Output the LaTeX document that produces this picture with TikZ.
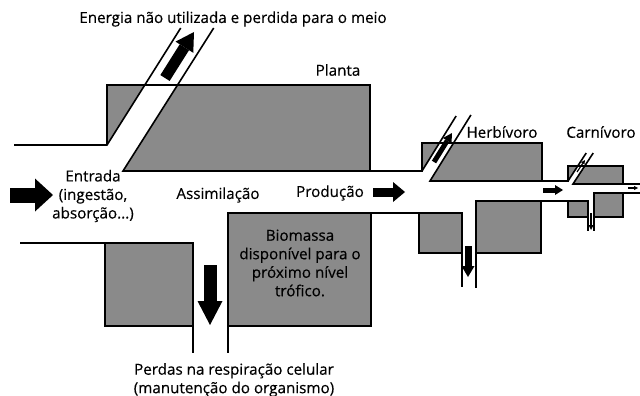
\documentclass[tikz,border=0pt]{standalone}
\usepackage{fontspec}
\setmainfont{Open Sans}
\newfontfamily\rotulofont{Open Sans}[FakeBold=0.4]
\usetikzlibrary{arrows.meta}
\definecolor{cinza}{RGB}{138,138,138}
\tikzset{
  parede/.style={line width=1.6pt, line join=miter},
  massa/.style={fill=cinza, draw=black, line width=1.6pt},
  seta/.style n args={3}{line width=#1pt, -{Triangle[length=#3pt, width=#2pt, line width=0pt]}},
  rotulo/.style={font=\rotulofont\fontsize{15.2}{18.5}\selectfont, align=center, inner sep=0pt}
}
\begin{document}
\begin{tikzpicture}[x=1pt,y=-1pt]
\useasboundingbox (0,0) rectangle (640,396);

% planta (parte de cima)
\fill[cinza] (107,145) -- (107,85) -- (144.8,85) -- cycle;
\fill[cinza] (123,171) -- (177.8,85) -- (370,85) -- (370,171) -- cycle;
\draw[parede] (14,145) -- (107,145) -- (180.7,28);
\draw[parede] (107,145) -- (107,85) -- (370,85) -- (370,171);
\draw[parede] (213.7,28) -- (123,171) -- (370,171);

% herbivoro e carnivoro (parte de cima)
\fill[cinza] (422,171) -- (422,143) -- (439.4,143) -- cycle;
\fill[cinza] (430,181) -- (453.6,143) -- (542,143) -- (542,181) -- cycle;
\fill[cinza] (568,181) -- (568,166) -- (577.7,166) -- cycle;
\fill[cinza] (573,184) -- (584.7,166) -- (623,166) -- (623,184) -- cycle;
\draw[parede] (370,171) -- (422,171) -- (422,143) -- (542,143) -- (542,181) -- (568,181) -- (568,166) -- (623,166) -- (623,184) -- (640,184);
\draw[parede] (422,171) -- (456.1,116);
\draw[parede] (470.9,115) -- (430,181) -- (542,181);
\draw[parede] (568,181) -- (586.2,153);
\draw[parede] (593.2,153) -- (573,184) -- (623,184);

% parte de baixo
\fill[cinza] (105,243) rectangle (193,326);
\draw[parede] (20,243) -- (193,243) -- (193,353);
\draw[parede] (193,326) -- (105,326) -- (105,243);
\draw[massa] (228,213) rectangle (371,326);
\draw[parede] (228,326) -- (228,353);
\fill[cinza] (419,213) rectangle (462,253);
\draw[parede] (371,213) -- (462,213) -- (462,287);
\draw[parede] (419,213) -- (419,253) -- (462,253);
\draw[massa] (476,201) rectangle (541,253);
\draw[parede] (476,253) -- (476,288);
\fill[cinza] (568,201) rectangle (588,217);
\draw[parede] (541,201) -- (588,201) -- (588,231);
\draw[parede] (568,201) -- (568,217) -- (588,217);
\draw[massa] (594,193) rectangle (623,217);
\draw[parede] (594,217) -- (594,231);
\draw[parede] (623,193) -- (640,193);

% setas
\draw[seta={15}{33}{18}] (10,195) -- (53,195);
\draw[seta={9}{20}{12}] (373,192) -- (405,192);
\draw[seta={13}{25}{24}] (210,265) -- (210,325);
\draw[seta={11}{21}{18}] (165,78) -- (194,32);
\draw[seta={5}{10}{9}] (434,162) -- (452,133);
\draw[seta={7}{13}{11}] (468,246) -- (468,277);
\draw[seta={5}{10}{8}] (543,190) -- (563,190);
\draw[seta={1.5}{5}{5}] (591,213) -- (591,230);
\draw[seta={1.2}{4}{4}] (577,172) -- (585,160);
\draw[seta={1.2}{4}{4}] (628,188) -- (638,188);

% textos
\node[rotulo] (energia) at (233,19) {Energia não utilizada e perdida para o meio};
\node[rotulo] (planta) at (338,70) {Planta};
\node[rotulo] (entrada) at (93,196) {Entrada\\(ingestão,\\absorção...)};
\node[rotulo] (assimilacao) at (218,195) {Assimilação};
\node[rotulo] (producao) at (330,193) {Produção};
\node[rotulo] (biomassa) at (300,263) {Biomassa\\disponível para o\\próximo nível\\trófico.};
\node[rotulo] (perdas) at (234,380) {Perdas na respiração celular\\(manutenção do organismo)};
\node[rotulo] (herbivoro) at (502,132) {Herbívoro};
\node[rotulo] (carnivoro) at (601,132) {Carnívoro};

\end{tikzpicture}
\end{document}
